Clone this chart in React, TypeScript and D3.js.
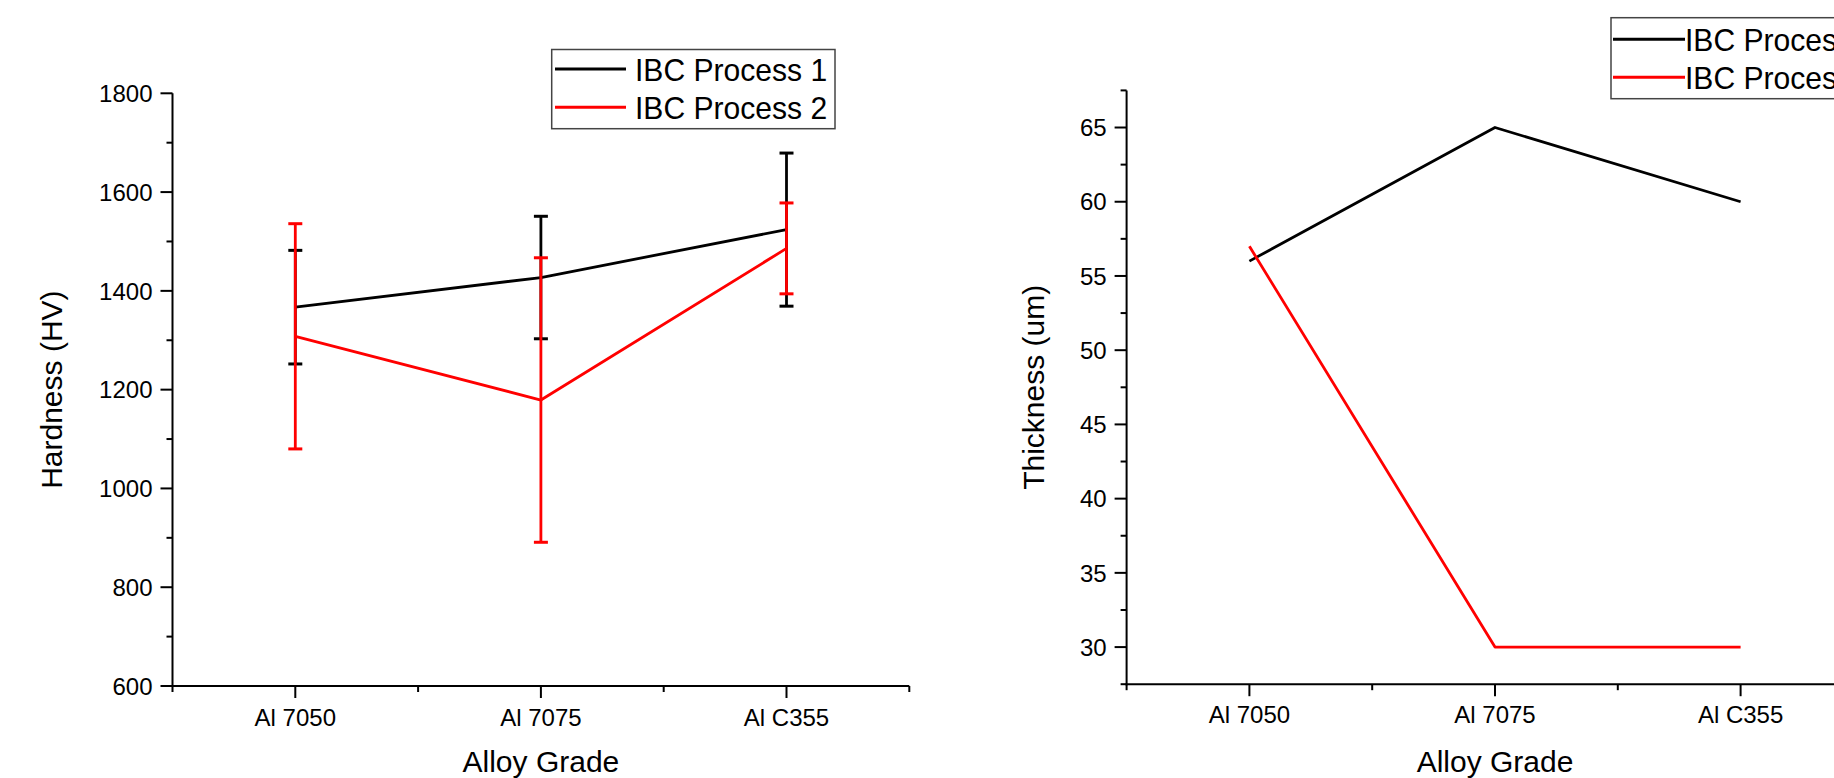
import React, { useEffect } from "react";
import * as d3 from "d3";

const categories = ["Al 7050", "Al 7075", "Al C355"];
const seriesNames = ["IBC Process 1", "IBC Process 2"];
const seriesColors = ["#000000", "#ff0000"];

// Left chart: hardness (HV) with error bars
const hardnessP1 = [1367, 1427, 1524];
const hardnessP1Err = [115, 124, 155];
const hardnessP2 = [1308, 1179, 1486];
const hardnessP2Err = [228, 288, 92];
const hardnessMajorTicks = [600, 800, 1000, 1200, 1400, 1600, 1800];
const hardnessMinorTicks = [700, 900, 1100, 1300, 1500, 1700];

// Right chart: thickness (um)
const thicknessP1 = [56, 65, 60];
const thicknessP2 = [57, 30, 30];
const thicknessMajorTicks = [30, 35, 40, 45, 50, 55, 60, 65];
const thicknessMinorTicks = [27.5, 32.5, 37.5, 42.5, 47.5, 52.5, 57.5, 62.5, 67.5];

const FONT = "Arial, 'Liberation Sans', sans-serif";

type PanelProps = {
  x0: number;
  x1: number;
  yTop: number;
  yBottom: number;
  yDomain: [number, number];
  majorTicks: number[];
  minorTicks: number[];
  series: { values: number[]; errors?: number[] }[];
  yTitle: string;
  yTitleX: number;
  xLabelBaseline: number;
  legend: { x: number; y: number; w: number; h: number; lineX0: number; lineX1: number; textX: number; rowY: number[] };
};

function Panel(p: PanelProps) {
  const x = d3.scaleLinear().domain([0.5, 3.5]).range([p.x0, p.x1]);
  const y = d3.scaleLinear().domain(p.yDomain).range([p.yBottom, p.yTop]);
  const line = d3
    .line<number>()
    .x((_, i) => x(i + 1))
    .y((d) => y(d));
  const axisX = p.x0;
  const axisY = p.yBottom;
  const majorLen = 12;
  const minorLen = 6;
  const capHalf = 7;
  const xMinor = [0.5, 1.5, 2.5, 3.5];
  return (
    <g>
      {p.series.map((s, si) => (
        <g key={si}>
          <path d={line(s.values) || ""} fill="none" stroke={seriesColors[si]} strokeWidth={2.8} strokeLinejoin="round" />
          {s.errors &&
            s.values.map((v, i) => {
              const cx = x(i + 1);
              const yt = y(v + s.errors![i]);
              const yb = y(v - s.errors![i]);
              return (
                <g key={i} stroke={seriesColors[si]}>
                  <line x1={cx} x2={cx} y1={yt} y2={yb} strokeWidth={2.8} />
                  <line x1={cx - capHalf} x2={cx + capHalf} y1={yt} y2={yt} strokeWidth={3} />
                  <line x1={cx - capHalf} x2={cx + capHalf} y1={yb} y2={yb} strokeWidth={3} />
                </g>
              );
            })}
        </g>
      ))}
      <line x1={axisX} x2={axisX} y1={p.yTop} y2={axisY + 1} stroke="#000" strokeWidth={2} />
      <line x1={axisX - 1} x2={p.x1} y1={axisY} y2={axisY} stroke="#000" strokeWidth={2} />
      {p.majorTicks.map((t) => (
        <g key={"M" + t}>
          <line x1={axisX - majorLen} x2={axisX} y1={y(t)} y2={y(t)} stroke="#000" strokeWidth={2} />
          <text x={axisX - 20} y={y(t)} dy="0.36em" textAnchor="end" fontSize={24} fontFamily={FONT}>
            {t}
          </text>
        </g>
      ))}
      {p.minorTicks.map((t) => (
        <line key={"m" + t} x1={axisX - minorLen} x2={axisX} y1={y(t)} y2={y(t)} stroke="#000" strokeWidth={2} />
      ))}
      {categories.map((c, i) => (
        <g key={c}>
          <line x1={x(i + 1)} x2={x(i + 1)} y1={axisY} y2={axisY + majorLen} stroke="#000" strokeWidth={2} />
          <text x={x(i + 1)} y={p.xLabelBaseline} textAnchor="middle" fontSize={24} fontFamily={FONT}>
            {c}
          </text>
        </g>
      ))}
      {xMinor.map((t) => (
        <line key={"xm" + t} x1={x(t)} x2={x(t)} y1={axisY} y2={axisY + minorLen} stroke="#000" strokeWidth={2} />
      ))}
      <text x={x(2)} y={772} textAnchor="middle" fontSize={30} fontFamily={FONT}>
        Alloy Grade
      </text>
      <text
        transform={`translate(${p.yTitleX},${(p.yTop + p.yBottom) / 2}) rotate(-90)`}
        textAnchor="middle"
        fontSize={30}
        fontFamily={FONT}
      >
        {p.yTitle}
      </text>
      <rect x={p.legend.x} y={p.legend.y} width={p.legend.w} height={p.legend.h} fill="#fff" stroke="#444" strokeWidth={1.5} />
      {seriesNames.map((n, i) => (
        <g key={n}>
          <line
            x1={p.legend.lineX0}
            x2={p.legend.lineX1}
            y1={p.legend.rowY[i]}
            y2={p.legend.rowY[i]}
            stroke={seriesColors[i]}
            strokeWidth={3}
          />
          <text
            transform={`translate(${p.legend.textX},${p.legend.rowY[i] + 11.5}) scale(0.94,1)`}
            fontSize={32}
            fontFamily={FONT}
          >
            {n}
          </text>
        </g>
      ))}
    </g>
  );
}

export default function App() {
  useEffect(() => {
    document.body.style.margin = "0";
  }, []);
  return (
    <svg
      width={1834}
      height={778}
      viewBox="0 0 1834 778"
      style={{ position: "fixed", left: 0, top: 0, background: "#fff" }}
    >
      <rect x={0} y={0} width={1834} height={778} fill="#fff" />
      <Panel
        x0={172.5}
        x1={909.3}
        yTop={93.3}
        yBottom={686}
        yDomain={[600, 1800]}
        majorTicks={hardnessMajorTicks}
        minorTicks={hardnessMinorTicks}
        series={[
          { values: hardnessP1, errors: hardnessP1Err },
          { values: hardnessP2, errors: hardnessP2Err },
        ]}
        yTitle="Hardness (HV)"
        yTitleX={61.5}
        xLabelBaseline={726}
        legend={{ x: 551.7, y: 49.5, w: 283.3, h: 79.2, lineX0: 555, lineX1: 626, textX: 635, rowY: [69, 107.3] }}
      />
      <Panel
        x0={1126.6}
        x1={1863.4}
        yTop={90.4}
        yBottom={684.2}
        yDomain={[27.5, 67.5]}
        majorTicks={thicknessMajorTicks}
        minorTicks={thicknessMinorTicks}
        series={[{ values: thicknessP1 }, { values: thicknessP2 }]}
        yTitle="Thickness (um)"
        yTitleX={1043.5}
        xLabelBaseline={722.5}
        legend={{ x: 1611, y: 17.7, w: 300, h: 81, lineX0: 1613, lineX1: 1685, textX: 1685, rowY: [39.3, 77.3] }}
      />
    </svg>
  );
}
